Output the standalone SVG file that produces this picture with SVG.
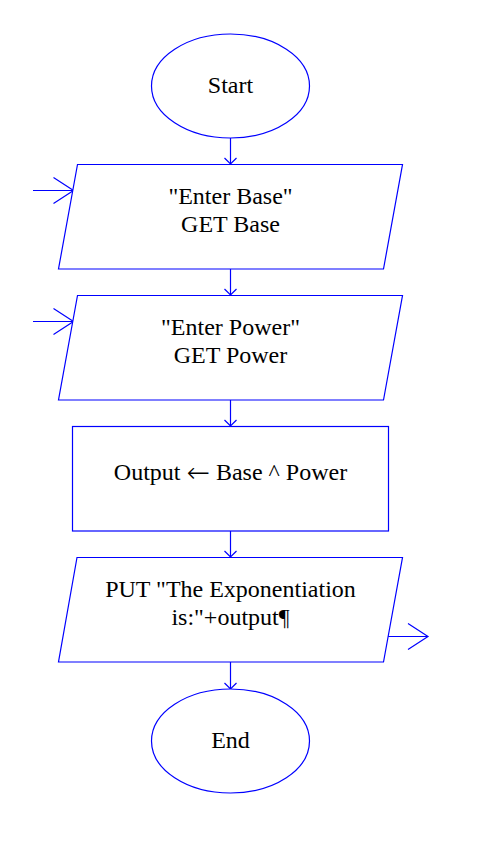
<svg xmlns="http://www.w3.org/2000/svg" width="503" height="858" viewBox="0 0 503 858">
<defs>
<style>
.shape{fill:#ffffff;stroke:#0000ff;stroke-width:1.2}
.conn{fill:none;stroke:#0000ff;stroke-width:1.2}
.lbl{font-family:"Liberation Serif","Times New Roman",serif;font-size:24px;fill:#000000;text-anchor:middle}
.arr{font-family:"DejaVu Sans",sans-serif;font-size:28px;font-weight:200}
</style>
<marker id="ah" markerUnits="userSpaceOnUse" markerWidth="14" markerHeight="14" viewBox="-8 -7 9 14" refX="0" refY="0" orient="auto">
<path d="M-6,-6 L0,0 L-6,6" fill="none" stroke="#0000ff" stroke-width="1.2"/>
</marker>
<marker id="ahL" markerUnits="userSpaceOnUse" markerWidth="24" markerHeight="30" viewBox="-22 -15 23 30" refX="0" refY="0" orient="auto">
<path d="M-20,-13 L0,0 L-20,13" fill="none" stroke="#0000ff" stroke-width="1.2"/>
</marker>
</defs>
<rect width="503" height="858" fill="#ffffff"/>
<g id="connectors">
<line class="conn" x1="230.5" y1="138" x2="230.5" y2="164" marker-end="url(#ah)"/>
<line class="conn" x1="230.5" y1="269" x2="230.5" y2="295" marker-end="url(#ah)"/>
<line class="conn" x1="230.5" y1="400" x2="230.5" y2="426" marker-end="url(#ah)"/>
<line class="conn" x1="230.5" y1="531" x2="230.5" y2="557" marker-end="url(#ah)"/>
<line class="conn" x1="230.5" y1="662" x2="230.5" y2="689" marker-end="url(#ah)"/>
<line class="conn" x1="33" y1="190.5" x2="73.5" y2="190.5" marker-end="url(#ahL)"/>
<line class="conn" x1="33" y1="321.5" x2="73.5" y2="321.5" marker-end="url(#ahL)"/>
<line class="conn" x1="388" y1="636.5" x2="428" y2="636.5" marker-end="url(#ahL)"/>
</g>
<g id="start">
<ellipse class="shape" cx="230.5" cy="86" rx="79" ry="52"/>
<text class="lbl" x="230.5" y="93">Start</text>
</g>
<g id="input-base">
<polygon class="shape" points="77.5,164.5 402.5,164.5 383.5,269 58.5,269"/>
<text class="lbl" x="230.5" y="204">"Enter Base"</text>
<text class="lbl" x="230.5" y="232">GET Base</text>
</g>
<g id="input-power">
<polygon class="shape" points="77.5,295.5 402.5,295.5 383.5,400 58.5,400"/>
<text class="lbl" x="230.5" y="334.5">"Enter Power"</text>
<text class="lbl" x="230.5" y="362.5">GET Power</text>
</g>
<g id="compute">
<rect class="shape" x="72.5" y="426.5" width="316" height="104.5"/>
<text class="lbl" x="230.5" y="479.5">Output <tspan class="arr" dy="2">←</tspan><tspan dy="-2"> Base ^ Power</tspan></text>
</g>
<g id="output">
<polygon class="shape" points="77,557.5 402.5,557.5 383.5,662 58.5,662"/>
<text class="lbl" x="230.5" y="597">PUT "The Exponentiation</text>
<text class="lbl" x="230.5" y="625">is:"+output¶</text>
</g>
<g id="end">
<ellipse class="shape" cx="230.5" cy="741" rx="79" ry="52"/>
<text class="lbl" x="230.5" y="748">End</text>
</g>
</svg>
